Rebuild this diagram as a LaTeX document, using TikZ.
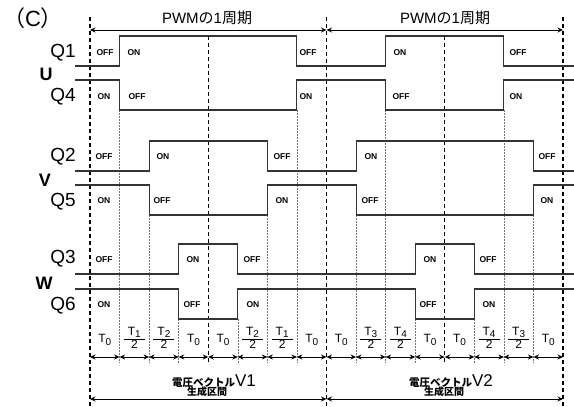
\documentclass[tikz,border=0pt]{standalone}
\usepackage{fontspec}
\setmainfont{Liberation Sans}
\newfontfamily\jp{Noto Sans CJK JP}
\usetikzlibrary{arrows.meta}
\newcommand{\Tz}[1]{T\raisebox{-2.5pt}{\fontsize{10}{10}\selectfont #1}}
\newcommand{\Tfr}[1]{\vbox{\hbox to 21pt{\hss T\raisebox{-2.5pt}{\fontsize{10}{10}\selectfont #1}\hss}\kern1.2pt\hrule height 0.7pt\kern0.8pt\hbox to 21pt{\hss 2\hss}}}
\begin{document}
\begin{tikzpicture}[x=1pt,y=-1pt,
  declare function={gx(\i)=90+\i*29.5625;},
  sig/.style={draw=black!80, line width=1.1pt},
  dsh/.style={draw=black, line width=1.4pt, dash pattern=on 4pt off 3pt},
  dotl/.style={draw=black!55, line width=0.5pt, dash pattern=on 1.5pt off 1.5pt},
  arr/.style={draw=black, line width=0.9pt, {Stealth[length=5.5pt,width=5pt]}-{Stealth[length=5.5pt,width=5pt]}},
  onoff/.style={font=\bfseries\fontsize{8.5}{9}\selectfont, inner sep=0pt},
  qlab/.style={font=\fontsize{19}{19}\selectfont, inner sep=0pt, anchor=east},
  uvw/.style={font=\bfseries\fontsize{18}{18}\selectfont, inner sep=0pt},
  tlab/.style={font=\fontsize{12}{12}\selectfont, inner sep=0pt}]
\useasboundingbox (0,0) rectangle (574,407);

% title
\node[inner sep=0pt, font=\fontsize{22}{22}\selectfont] (ttl) at (33,18) {{\jp （}C{\jp ）}};

% vertical grid
\foreach \i in {0,8,16} \draw[dsh] ({gx(\i)},17) -- ({gx(\i)},406);
\foreach \i in {4,12} \draw[dsh] ({gx(\i)},36) -- ({gx(\i)},363);
\foreach \i in {1,7,10,14} \draw[dotl] ({gx(\i)},110) -- ({gx(\i)},363);
\foreach \i in {2,6,9,15} \draw[dotl] ({gx(\i)},215) -- ({gx(\i)},363);
\foreach \i in {3,5,11,13} \draw[dotl] ({gx(\i)},319) -- ({gx(\i)},363);

% waveforms
\draw[sig] (75,66) -- ({gx(1)},66) -- ({gx(1)},36) -- ({gx(7)},36) -- ({gx(7)},66) -- ({gx(10)},66) -- ({gx(10)},36) -- ({gx(14)},36) -- ({gx(14)},66) -- (574,66);
\draw[sig] (75,80) -- ({gx(1)},80) -- ({gx(1)},110) -- ({gx(7)},110) -- ({gx(7)},80) -- ({gx(10)},80) -- ({gx(10)},110) -- ({gx(14)},110) -- ({gx(14)},80) -- (574,80);
\draw[sig] (75,171) -- ({gx(2)},171) -- ({gx(2)},141) -- ({gx(6)},141) -- ({gx(6)},171) -- ({gx(9)},171) -- ({gx(9)},141) -- ({gx(15)},141) -- ({gx(15)},171) -- (574,171);
\draw[sig] (75,185) -- ({gx(2)},185) -- ({gx(2)},215) -- ({gx(6)},215) -- ({gx(6)},185) -- ({gx(9)},185) -- ({gx(9)},215) -- ({gx(15)},215) -- ({gx(15)},185) -- (574,185);
\draw[sig] (75,274) -- ({gx(3)},274) -- ({gx(3)},244) -- ({gx(5)},244) -- ({gx(5)},274) -- ({gx(11)},274) -- ({gx(11)},244) -- ({gx(13)},244) -- ({gx(13)},274) -- (574,274);
\draw[sig] (75,289) -- ({gx(3)},289) -- ({gx(3)},319) -- ({gx(5)},319) -- ({gx(5)},289) -- ({gx(11)},289) -- ({gx(11)},319) -- ({gx(13)},319) -- ({gx(13)},289) -- (574,289);

% signal names
\node[qlab] (q1) at (76,53) {Q1};
\node[qlab] (q4) at (76,97) {Q4};
\node[qlab] (q2) at (76,157) {Q2};
\node[qlab] (q5) at (76,202) {Q5};
\node[qlab] (q3) at (76,259) {Q3};
\node[qlab] (q6) at (76,306) {Q6};
\node[uvw] (pu) at (46,74) {U};
\node[uvw] (pv) at (45,180) {V};
\node[uvw] (pw) at (44,283) {W};

% ON / OFF
\foreach \x/\y/\t [count=\k] in {105/53/OFF, 134/53/ON, 308/53/OFF, 400/53/ON, 518/53/OFF,
  104/97/ON, 137/97/OFF, 306/97/ON, 401/97/OFF, 516/97/ON,
  104/157/OFF, 163/157/ON, 282/157/OFF, 371/157/ON, 547/157/OFF,
  104/201/ON, 162/201/OFF, 282/201/ON, 370/201/OFF, 547/201/ON,
  104/260/OFF, 193/260/ON, 252/260/OFF, 430/260/ON, 488/260/OFF,
  104/305/ON, 192/305/OFF, 253/305/ON, 428/305/OFF, 489/305/ON}
  \node[onoff] (s\k) at (\x,\y) {\t};

% PWM period
\coordinate (p0) at ({gx(0)},30);
\coordinate (p8) at ({gx(8)},30);
\coordinate (p16) at ({gx(16)},30);
\draw[arr] (p0) -- (p8);
\draw[arr] (p8) -- (p16);
\node[inner sep=0pt, font=\fontsize{15}{15}\selectfont] (pwm1) at (207,18) {PWM{\jp の}1{\jp 周期}};
\node[inner sep=0pt, font=\fontsize{15}{15}\selectfont] (pwm2) at (445,18) {PWM{\jp の}1{\jp 周期}};

% time segments
\foreach \i in {0,...,16} \coordinate (a\i) at ({gx(\i)},357);
\foreach \i [evaluate=\i as \j using int(\i+1)] in {0,...,15} \draw[arr] (a\i) -- (a\j);
\node[tlab] (t0) at ({gx(0.5)},340) {\Tz0};
\node[tlab] (t1) at ({gx(1.5)},338) {\Tfr1};
\node[tlab] (t2) at ({gx(2.5)},338) {\Tfr2};
\node[tlab] (t3) at ({gx(3.5)},340) {\Tz0};
\node[tlab] (t4) at ({gx(4.5)},340) {\Tz0};
\node[tlab] (t5) at ({gx(5.5)},338) {\Tfr2};
\node[tlab] (t6) at ({gx(6.5)},338) {\Tfr1};
\node[tlab] (t7) at ({gx(7.5)},340) {\Tz0};
\node[tlab] (t8) at ({gx(8.5)},340) {\Tz0};
\node[tlab] (t9) at ({gx(9.5)},338) {\Tfr3};
\node[tlab] (t10) at ({gx(10.5)},338) {\Tfr4};
\node[tlab] (t11) at ({gx(11.5)},340) {\Tz0};
\node[tlab] (t12) at ({gx(12.5)},340) {\Tz0};
\node[tlab] (t13) at ({gx(13.5)},338) {\Tfr4};
\node[tlab] (t14) at ({gx(14.5)},338) {\Tfr3};
\node[tlab] (t15) at ({gx(15.5)},340) {\Tz0};

% voltage vector sections
\coordinate (b0) at ({gx(0)},399);
\coordinate (b8) at ({gx(8)},399);
\coordinate (b16) at ({gx(16)},399);
\draw[arr] (b0) -- (b8);
\draw[arr] (b8) -- (b16);
\node[inner sep=0pt, anchor=base] (v1) at (214,386) {{\jp\bfseries\fontsize{10.5}{10.5}\selectfont 電圧ベクトル}{\fontsize{17}{17}\selectfont V1}};
\node[inner sep=0pt, font=\jp\bfseries\fontsize{10}{10}\selectfont] (g1) at (207,392) {生成区間};
\node[inner sep=0pt, anchor=base] (v2) at (451,386) {{\jp\bfseries\fontsize{10.5}{10.5}\selectfont 電圧ベクトル}{\fontsize{17}{17}\selectfont V2}};
\node[inner sep=0pt, font=\jp\bfseries\fontsize{10}{10}\selectfont] (g2) at (444,392) {生成区間};
\end{tikzpicture}
\end{document}
